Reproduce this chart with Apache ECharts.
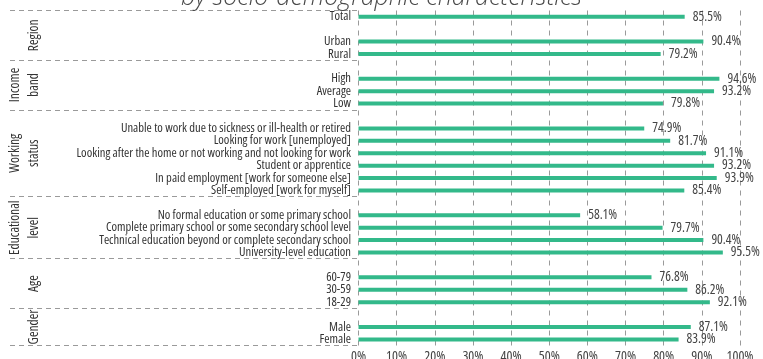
<!DOCTYPE html>
<html>
<head>
<meta charset="utf-8">
<script src="https://cdn.jsdelivr.net/npm/echarts@6/dist/echarts.min.js"></script>
<style>
  html, body { margin: 0; padding: 0; background: #fff; }
  #chart { width: 763px; height: 359px; }
</style>
</head>
<body>
<div id="chart"></div>
<script>
// groups of rows, top to bottom ('' = empty spacer row)
const regionLabels = ['Total', '', 'Urban', 'Rural']
const regionValues = [85.5, null, 90.4, 79.2]
const incomeLabels = ['', 'High', 'Average', 'Low']
const incomeValues = [null, 94.6, 93.2, 79.8]
const workLabels = ['', 'Unable to work due to sickness or ill-health or retired', 'Looking for work [unemployed]',
  'Looking after the home or not working and not looking for work', 'Student or apprentice',
  'In paid employment [work for someone else]', 'Self-employed [work for myself]']
const workValues = [null, 74.9, 81.7, 91.1, 93.2, 93.9, 85.4]
const eduLabels = ['', 'No formal education or some primary school', 'Complete primary school or some secondary school level',
  'Technical education beyond or complete secondary school', 'University-level education']
const eduValues = [null, 58.1, 79.7, 90.4, 95.5]
const ageLabels = ['', '60-79', '30-59', '18-29']
const ageValues = [null, 76.8, 86.2, 92.1]
const genderLabels = ['', 'Male', 'Female']
const genderValues = [null, 87.1, 83.9]
const groupNames = ['Region', 'Income\nband', 'Working\nstatus', 'Educational\nlevel', 'Age', 'Gender']
const xTickValues = [0, 10, 20, 30, 40, 50, 60, 70, 80, 90, 100]

const groupLabels = [regionLabels, incomeLabels, workLabels, eduLabels, ageLabels, genderLabels]
const groupValues = [regionValues, incomeValues, workValues, eduValues, ageValues, genderValues]

// flatten; spacer rows get unique blank names
let blankCount = 0
const categories = []
groupLabels.forEach(g => g.forEach(l => {
  if (l === '') { blankCount++; categories.push(' '.repeat(blankCount)) } else categories.push(l)
}))
const values = [].concat(...groupValues)

// group boundaries and centres in row units
const bounds = [-0.5]
const centres = []
groupLabels.forEach(g => {
  const start = bounds[bounds.length - 1]
  centres.push(start + g.length / 2)
  bounds.push(start + g.length)
})

// condensed Open Sans (font-stretch goes in through the font shorthand)
const FONT = "'Open Sans', sans-serif"
const NARROW = 'condensed'
const GREEN = '#33b98a'
const gridTop = 10.5
const gridBottom = 13.4

const myChart = echarts.init(document.getElementById('chart'))

const option = {
  animation: false,
  title: {
    text: 'by socio-demographic characteristics',
    left: 'center',
    top: -20,
    textStyle: {
      fontFamily: FONT,
      fontStyle: 'italic',
      fontWeight: 300,
      fontSize: 25,
      color: '#4a4a4a'
    }
  },
  grid: [
    { left: 358.5, right: 23, top: gridTop, bottom: gridBottom, outerBoundsMode: 'none', containLabel: false },
    { left: 10, width: 348.5, top: gridTop, bottom: gridBottom, outerBoundsMode: 'none', containLabel: false }
  ],
  xAxis: [
    {
      type: 'value',
      gridIndex: 0,
      min: xTickValues[0],
      max: xTickValues[xTickValues.length - 1],
      interval: 10,
      axisLine: { show: false },
      axisTick: { show: false },
      splitLine: { show: true, lineStyle: { type: [5, 5], color: '#9a9a9a', width: 1 } },
      axisLabel: { formatter: '{value}%', margin: 4, fontFamily: FONT, fontStyle: NARROW, fontSize: 14, color: '#444' }
    },
    { type: 'value', gridIndex: 1, min: 0, max: 1, show: false }
  ],
  yAxis: [
    {
      type: 'category',
      gridIndex: 0,
      inverse: true,
      data: categories,
      axisLine: { show: false },
      axisTick: { show: false },
      splitLine: { show: false },
      axisLabel: { interval: 0, margin: 7.5, fontFamily: FONT, fontStyle: NARROW, fontSize: 12.6, color: '#333' }
    },
    {
      type: 'value',
      gridIndex: 1,
      inverse: true,
      min: bounds[0],
      max: bounds[bounds.length - 1],
      axisLine: { show: false },
      axisTick: { show: false },
      splitLine: { show: false },
      axisLabel: {
        customValues: centres,
        rotate: 90,
        margin: -34,
        fontFamily: FONT,
        fontStyle: NARROW,
        fontSize: 13.5,
        lineHeight: 19,
        color: '#333',
        formatter: v => {
          const i = centres.findIndex(c => Math.abs(c - v) < 1e-6)
          return i >= 0 ? groupNames[i] : ''
        }
      }
    }
  ],
  series: [
    {
      type: 'bar',
      xAxisIndex: 0,
      yAxisIndex: 0,
      data: values,
      barWidth: 4,
      itemStyle: { color: GREEN },
      label: {
        show: true,
        position: 'right',
        distance: 8,
        fontFamily: FONT,
        fontStyle: NARROW,
        fontSize: 13.5,
        color: '#444',
        formatter: p => p.value.toFixed(1) + '%'
      }
    },
    {
      type: 'scatter',
      xAxisIndex: 1,
      yAxisIndex: 1,
      data: [[0, 0]],
      symbolSize: 0,
      silent: true,
      markLine: {
        silent: true,
        symbol: 'none',
        label: { show: false },
        lineStyle: { type: [5, 4], color: '#9a9a9a', width: 1 },
        data: bounds.map(b => ({ yAxis: b }))
      }
    }
  ]
}

myChart.setOption(option)
</script>
</body>
</html>
